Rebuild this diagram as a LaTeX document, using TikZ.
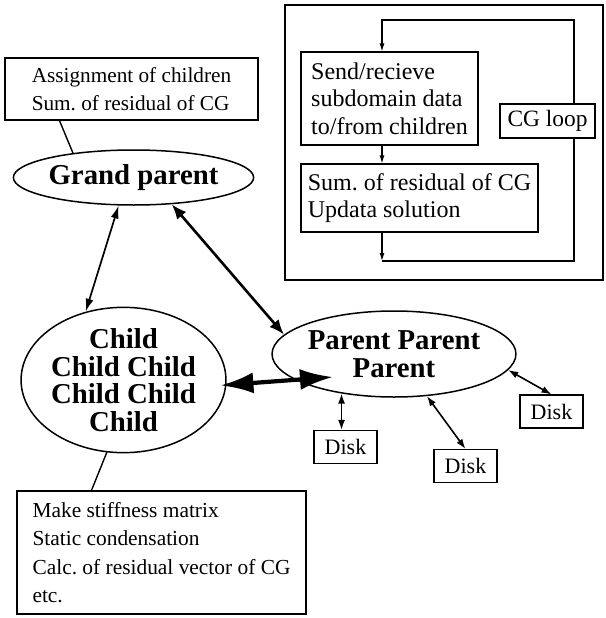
\documentclass[tikz,border=0pt]{standalone}
\usepackage{fontspec}
\setmainfont{Liberation Serif}
\usetikzlibrary{shapes.geometric,arrows.meta,calc}
\frenchspacing
\begin{document}
\begin{tikzpicture}[x=1pt,y=-1pt,
  box/.style={draw, line width=1.1pt, rectangle, inner sep=0pt, align=left},
  ell/.style={draw, ellipse, line width=1.5pt, inner sep=0pt, align=center,
              font=\bfseries\fontsize{28.8}{27.5}\selectfont},
  thinarr/.style={line width=1.6pt, {Latex[length=10pt,width=7pt]}-{Latex[length=10pt,width=7pt]}},
  gcarr/.style={line width=1.7pt, {Latex[length=13pt,width=8pt]}-{Latex[length=13pt,width=8pt]}},
  medarr/.style={line width=2.6pt, {Latex[length=15pt,width=12pt]}-{Latex[length=15pt,width=12pt]}},
  bigarr/.style={line width=4.2pt, {Latex[length=33pt,width=21pt]}-{Latex[length=33pt,width=21pt]}},
  looparr/.style={line width=1.1pt, -{Latex[length=8pt,width=5pt]}},
  plain/.style={line width=1.4pt}
]
\useasboundingbox (0,0) rectangle (605,618);

% left notes
\node[box, minimum width=253pt, minimum height=62pt, font=\fontsize{21.25}{28}\selectfont]
  (gpnote) at (131.5,89) {Assignment of children\\Sum. of residual of CG};
\node[box, minimum width=289pt, minimum height=123pt, font=\fontsize{21.4}{28.5}\selectfont]
  (childnote) at (161.5,552.5) {Make stiffness matrix\\Static condensation\\Calc. of residual vector of CG\\etc.};

% ellipses
\node[ell, minimum width=223pt, minimum height=55pt] (gp) at (133.5,177.5) {Grand parent};
\node[ell, minimum width=201pt, minimum height=144pt] (child) at (123.5,380) {Child\\Child Child\\Child Child\\Child};
\node[ell, minimum width=228pt, minimum height=86pt] (parent) at (394,354) {Parent Parent\\Parent};

% disks
\tikzset{disk/.style={draw, line width=1.1pt, minimum width=63pt, minimum height=33pt, inner sep=0pt, font=\fontsize{22}{22}\selectfont}}
\node[disk] (disk1) at (345.5,447) {Disk};
\node[disk] (disk2) at (465.5,466) {Disk};
\node[disk] (disk3) at (551.5,411.5) {Disk};

% connectors
\draw[plain] ($(gpnote.south west)+(55,0)$) -- (gp.158);
\draw[plain] (child.257) -- ($(childnote.north west)+(75,0)$);
\draw[gcarr] (gp.242) -- (child.119);
\draw[medarr] (gp.325) -- (parent.170);
\coordinate (pin) at ($(parent.center)+(-61,23)$);
\draw[bigarr] ($(child.357)+(-6,0)$) -- (pin);
\draw[thinarr] (parent.217) -- (parent.217 |- disk1.north);
\draw[thinarr] (parent.308) -- (disk2.north);
\draw[thinarr] (parent.352) -- (disk3.north);

% right panel
\node[draw, line width=1.1pt, minimum width=318pt, minimum height=275pt, inner sep=0pt] (panel) at (444,142.5) {};
\node[box, minimum width=177pt, minimum height=93pt, font=\fontsize{24}{27.5}\selectfont]
  (box1) at (389.5,98.5) {Send/recieve\\subdomain data\\to/from children};
\node[box, minimum width=237pt, minimum height=68pt, font=\fontsize{24}{27.5}\selectfont]
  (box2) at (419.5,198) {Sum. of residual of CG\\Updata solution};
\node[box, minimum width=95pt, minimum height=34pt, align=center, font=\fontsize{23.4}{24}\selectfont]
  (loopbox) at (547.5,121) {CG loop};

\coordinate (lt) at (382,20);
\coordinate (rt) at (574,20);
\coordinate (rb) at (574,261);
\coordinate (lb) at (382,261);
\draw[looparr] (loopbox.north -| rt) -- (rt) -- (lt) -- (lt |- box1.north);
\draw[looparr] (box1.south -| lt) -- (box2.north -| lt);
\draw[looparr] (box2.south -| lt) -- (lb);
\draw[line width=1.1pt] (lb) -- (rb) -- (loopbox.south -| rb);
\end{tikzpicture}
\end{document}
